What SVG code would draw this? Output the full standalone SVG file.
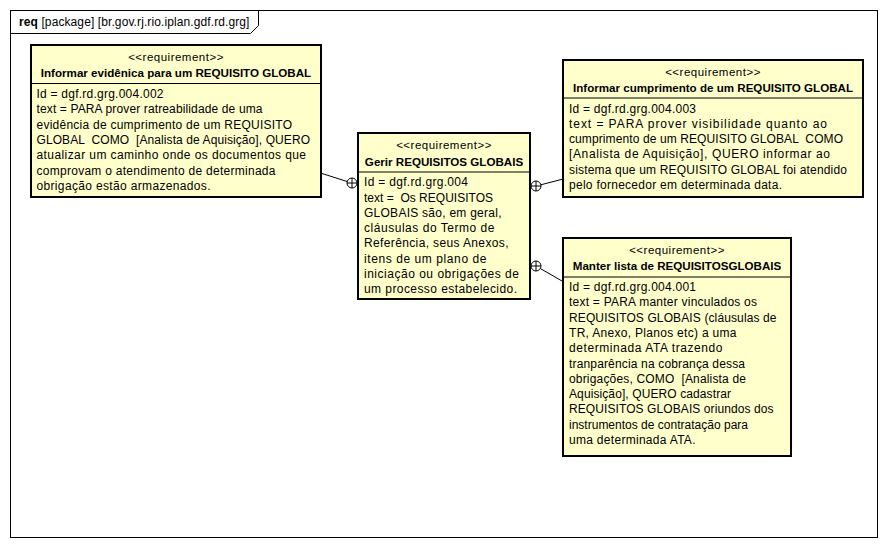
<svg xmlns="http://www.w3.org/2000/svg" width="888" height="548" viewBox="0 0 888 548">
<style>
  .frame { fill: #ffffff; stroke: #000000; stroke-width: 1; }
  .box { fill: #ffffcc; stroke: #000000; stroke-width: 2; }
  .div { stroke: #000000; stroke-width: 1; }
  text { font-family: "Liberation Sans", Arial, sans-serif; font-size: 12px; fill: #000000; }
  .lbl { letter-spacing: 0.1px; }
  .st { text-anchor: middle; font-size: 11.5px; letter-spacing: 0.5px; }
  .ti { text-anchor: middle; font-weight: bold; font-size: 11.6px; }
  .conn line { stroke: #000000; stroke-width: 1; }
  .conn circle { fill: #ffffff; stroke: #000000; stroke-width: 1; }
</style>
<rect x="0" y="0" width="888" height="548" fill="#ffffff"/>
<g id="frame">
  <rect class="frame" x="10.5" y="10.5" width="867" height="527"/>
  <path d="M10.5,33.5 H250.5 L258.5,25.5 V10.5" fill="none" stroke="#000" stroke-width="1"/>
  <text class="lbl" x="19" y="26"><tspan font-weight="bold">req</tspan> [package] [br.gov.rj.rio.iplan.gdf.rd.grg]</text>
</g>
<g id="connectors" class="conn">
  <line x1="322" y1="173.5" x2="347.2" y2="181.5"/>
  <circle cx="352" cy="183" r="5"/>
  <line x1="347" y1="183" x2="357" y2="183"/>
  <line x1="352" y1="178" x2="352" y2="188"/>
  <line x1="540.8" y1="184.8" x2="562" y2="179.3"/>
  <circle cx="536" cy="186" r="5"/>
  <line x1="531" y1="186" x2="541" y2="186"/>
  <line x1="536" y1="181" x2="536" y2="191"/>
  <line x1="540.3" y1="268.5" x2="562" y2="281"/>
  <circle cx="536" cy="266" r="5"/>
  <line x1="531" y1="266" x2="541" y2="266"/>
  <line x1="536" y1="261" x2="536" y2="271"/>
</g>
<g id="req-004-002">
  <rect class="box" x="31" y="45" width="290" height="152"/>
  <line class="div" x1="31" y1="83.5" x2="321" y2="83.5"/>
  <text class="st" x="176" y="61">&lt;&lt;requirement&gt;&gt;</text>
  <text class="ti" x="176" y="77">Informar evidênica para um REQUISITO GLOBAL</text>
  <text x="36.5" y="98" textLength="127" lengthAdjust="spacing">Id = dgf.rd.grg.004.002</text>
  <text x="36.5" y="113.3" textLength="226" lengthAdjust="spacing">text = PARA prover ratreabilidade de uma</text>
  <text x="36.5" y="128.6" textLength="255.5" lengthAdjust="spacing">evidência de cumprimento de um REQUISITO</text>
  <text x="36.5" y="143.9" textLength="273.5" lengthAdjust="spacing" xml:space="preserve">GLOBAL  COMO  [Analista de Aquisição], QUERO</text>
  <text x="36.5" y="159.2" textLength="269.5" lengthAdjust="spacing">atualizar um caminho onde os documentos que</text>
  <text x="36.5" y="174.5" textLength="239" lengthAdjust="spacing">comprovam o atendimento de determinada</text>
  <text x="36.5" y="189.8" textLength="174" lengthAdjust="spacing">obrigação estão armazenados.</text>
</g>
<g id="req-004">
  <rect class="box" x="358" y="133" width="172" height="166"/>
  <line class="div" x1="358" y1="172" x2="530" y2="172"/>
  <text class="st" x="444" y="149">&lt;&lt;requirement&gt;&gt;</text>
  <text class="ti" x="444" y="165.5">Gerir REQUISITOS GLOBAIS</text>
  <text x="364" y="186.2" textLength="104" lengthAdjust="spacing">Id = dgf.rd.grg.004</text>
  <text x="364" y="201.5" textLength="129" lengthAdjust="spacing" xml:space="preserve">text =  Os REQUISITOS</text>
  <text x="364" y="216.8" textLength="137.5" lengthAdjust="spacing">GLOBAIS são, em geral,</text>
  <text x="364" y="232.1" textLength="130.5" lengthAdjust="spacing">cláusulas do Termo de</text>
  <text x="364" y="247.4" textLength="144.5" lengthAdjust="spacing">Referência, seus Anexos,</text>
  <text x="364" y="262.7" textLength="122.5" lengthAdjust="spacing">itens de um plano de</text>
  <text x="364" y="278" textLength="155" lengthAdjust="spacing">iniciação ou obrigações de</text>
  <text x="364" y="293.3" textLength="153" lengthAdjust="spacing">um processo estabelecido.</text>
</g>
<g id="req-004-003">
  <rect class="box" x="563" y="60" width="300" height="137"/>
  <line class="div" x1="563" y1="98" x2="863" y2="98"/>
  <text class="st" x="713" y="76">&lt;&lt;requirement&gt;&gt;</text>
  <text class="ti" x="713" y="92">Informar cumprimento de um REQUISITO GLOBAL</text>
  <text x="569" y="112.5" textLength="127" lengthAdjust="spacing">Id = dgf.rd.grg.004.003</text>
  <text x="569" y="127.8" textLength="258" lengthAdjust="spacing">text = PARA prover visibilidade quanto ao</text>
  <text x="569" y="143.1" textLength="274" lengthAdjust="spacing" xml:space="preserve">cumprimento de um REQUISITO GLOBAL  COMO</text>
  <text x="569" y="158.4" textLength="261" lengthAdjust="spacing">[Analista de Aquisição], QUERO informar ao</text>
  <text x="569" y="173.7" textLength="278" lengthAdjust="spacing">sistema que um REQUISITO GLOBAL foi atendido</text>
  <text x="569" y="189" textLength="213" lengthAdjust="spacing">pelo fornecedor em determinada data.</text>
</g>
<g id="req-004-001">
  <rect class="box" x="563" y="238" width="228" height="218"/>
  <line class="div" x1="563" y1="277" x2="791" y2="277"/>
  <text class="st" x="677" y="254">&lt;&lt;requirement&gt;&gt;</text>
  <text class="ti" x="677" y="270">Manter lista de REQUISITOSGLOBAIS</text>
  <text x="569" y="291" textLength="127" lengthAdjust="spacing">Id = dgf.rd.grg.004.001</text>
  <text x="569" y="306.3" textLength="188" lengthAdjust="spacing">text = PARA manter vinculados os</text>
  <text x="569" y="321.6" textLength="207.5" lengthAdjust="spacing">REQUISITOS GLOBAIS (cláusulas de</text>
  <text x="569" y="336.9" textLength="167.5" lengthAdjust="spacing">TR, Anexo, Planos etc) a uma</text>
  <text x="569" y="352.2" textLength="153.5" lengthAdjust="spacing">determinada ATA trazendo</text>
  <text x="569" y="367.5" textLength="176" lengthAdjust="spacing">tranparência na cobrança dessa</text>
  <text x="569" y="382.8" textLength="177" lengthAdjust="spacing" xml:space="preserve">obrigações, COMO  [Analista de</text>
  <text x="569" y="398.1" textLength="162" lengthAdjust="spacing">Aquisição], QUERO cadastrar</text>
  <text x="569" y="413.4" textLength="204.5" lengthAdjust="spacing">REQUISITOS GLOBAIS oriundos dos</text>
  <text x="569" y="428.7" textLength="179" lengthAdjust="spacing">instrumentos de contratação para</text>
  <text x="569" y="444" textLength="126.5" lengthAdjust="spacing">uma determinada ATA.</text>
</g>
</svg>
